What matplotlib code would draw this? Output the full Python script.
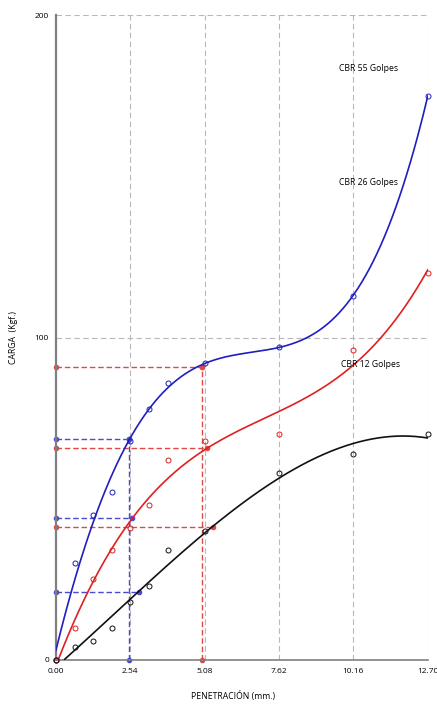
import numpy as np
import matplotlib
matplotlib.use("Agg")
import matplotlib.pyplot as plt

plt.rcParams['font.family'] = ['Open Sans', 'DejaVu Sans']

# datos del ensayo CBR
pen = [0.00, 0.64, 1.27, 1.91, 2.54, 3.18, 3.81, 5.08, 7.62, 10.16, 12.70]
carga55 = [0, 30, 45, 52, 68, 78, 86, 92, 97, 113, 175]
carga26 = [0, 10, 25, 34, 41, 48, 62, 68, 70, 96, 120]
carga12 = [0, 4, 6, 10, 18, 23, 34, 40, 58, 64, 70]

# lecturas a 2.54 y 5.08 mm
lect_x254 = 2.50
lect_y254 = [68.5, 44.1, 21.2]
fin_x254 = [2.50, 2.60, 2.83]
lect_x508 = 5.00
lect_y508 = [91.0, 65.6, 41.3]
fin_x508 = [5.00, 5.15, 5.36]

xticks = [0.00, 2.54, 5.08, 7.62, 10.16, 12.70]
xtick_lab = ["0.00", "2.54", "5.08", "7.62", "10.16", "12.70"]
yticks = [0, 100, 200]

azul = '#1f1fbf'
rojo = '#e02020'
negro = '#111111'

fig = plt.figure(figsize=(4.37, 7.04), dpi=100)
ax = fig.add_axes([0.128, 0.0625, 0.851, 0.916])

# grilla
for xv in xticks[1:]:
    ax.axvline(xv, color='#b8b8b8', lw=0.8, ls=(0, (5, 3)), zorder=0)
for yv in yticks[1:]:
    ax.axhline(yv, color='#b8b8b8', lw=0.8, ls=(0, (5, 3)), zorder=0)

# curvas de ajuste (tendencia polinomica)
xs = np.linspace(0, 12.70, 300)
p55 = np.polyfit(pen, carga55, 4)
p26 = np.polyfit(pen, carga26, 3)
p12 = np.polyfit(pen, carga12, 3)
ax.plot(xs, np.polyval(p55, xs), color=azul, lw=1.2, zorder=3)
y26 = np.polyval(p26, xs)
ax.plot(xs[y26 >= 0], y26[y26 >= 0], color=rojo, lw=1.2, zorder=3)
y12 = np.polyval(p12, xs)
ax.plot(xs[y12 >= 0], y12[y12 >= 0], color=negro, lw=1.2, zorder=3)

# puntos
ms = 3.6
ax.plot(pen, carga55, 'o', mfc='none', mec=azul, ms=ms, mew=0.7, zorder=4, clip_on=False)
ax.plot(pen, carga26, 'o', mfc='none', mec=rojo, ms=ms, mew=0.7, zorder=4, clip_on=False)
ax.plot(pen, carga12, 'o', mfc='none', mec=negro, ms=ms, mew=0.7, zorder=4, clip_on=False)

# lineas de lectura
dash = (0, (4, 2))
c_az = '#4a4ad0'
c_ro = '#e04848'
ax.plot([lect_x254, lect_x254], [0, lect_y254[0]], color=c_az, lw=1, ls=dash,
        marker='o', ms=3, zorder=2, clip_on=False)
for yv, xf in zip(lect_y254, fin_x254):
    ax.plot([0, xf], [yv, yv], color=c_az, lw=1, ls=dash, marker='o', ms=3,
            zorder=2, clip_on=False)
ax.plot([lect_x508, lect_x508], [0, lect_y508[0]], color=c_ro, lw=1, ls=dash,
        marker='o', ms=3, zorder=2, clip_on=False)
for yv, xf in zip(lect_y508, fin_x508):
    ax.plot([0, xf], [yv, yv], color=c_ro, lw=1, ls=dash, marker='o', ms=3,
            zorder=2, clip_on=False)

ax.text(9.66, 183.6, "CBR 55 Golpes", fontsize=6.2, va='center')
ax.text(9.68, 148, "CBR 26 Golpes", fontsize=6.2, va='center')
ax.text(9.73, 91.8, "CBR 12 Golpes", fontsize=6.2, va='center')

ax.set_xlim(0, 12.70)
ax.set_ylim(0, 200)
ax.set_xticks(xticks)
ax.set_xticklabels(xtick_lab)
ax.set_yticks(yticks)
ax.tick_params(length=0, labelsize=6, pad=6)
ax.tick_params(axis='y', pad=5)

for s in ['top', 'right']:
    ax.spines[s].set_visible(False)
ax.spines['left'].set_color('#808080')
ax.spines['left'].set_linewidth(1.6)
ax.spines['bottom'].set_color('#808080')
ax.spines['bottom'].set_linewidth(1.2)

ax.set_xlabel("PENETRACIÓN (mm.)", fontsize=6.2)
ax.xaxis.set_label_coords(0.476, -0.048)
ax.set_ylabel("CARGA  (Kgf.)", fontsize=6.2, labelpad=12)

fig.savefig("out.png", dpi=100)
